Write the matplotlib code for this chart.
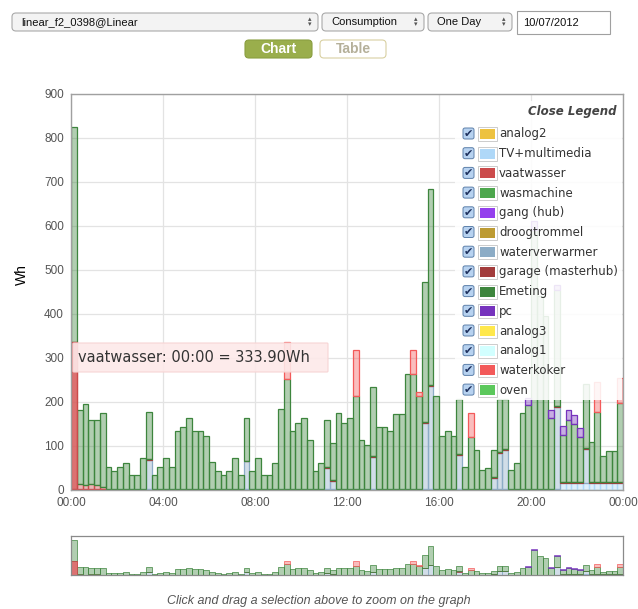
import numpy as np
import matplotlib
matplotlib.use("Agg")
import matplotlib.pyplot as plt
from matplotlib.patches import FancyBboxPatch, Rectangle
from matplotlib.colors import to_rgba

W, H = 638, 609

# 15-minute slots over one day (10/07/2012)
n_slots = 96
hour_ticks = [0, 4, 8, 12, 16, 20, 24]
hour_labels = ["00:00", "04:00", "08:00", "12:00", "16:00", "20:00", "00:00"]

# Emeting (main green) segment per slot, Wh
emeting = [489, 169, 184, 147, 146, 167, 50, 41, 50, 59, 30, 30, 69, 106, 30, 50,
           70, 50, 131, 141, 161, 130, 130, 120, 60, 41, 30, 41, 70, 30, 96, 40,
           70, 30, 30, 59, 180, 249, 130, 150, 160, 110, 40, 59, 106, 84, 171, 150,
           160, 211, 111, 100, 157, 141, 141, 130, 170, 170, 260, 260, 211, 317, 445, 210,
           120, 130, 119, 125, 50, 118, 89, 42, 47, 63, 120, 112, 42, 59, 171, 190,
           589, 437, 392, 161, 264, 107, 141, 133, 103, 146, 90, 160, 60, 70, 71, 180]

# sparse series: slot -> Wh
vaatwasser = {0: 333.9, 1: 10, 2: 8, 3: 10, 4: 9, 5: 4}
waterverwarmer = {13: 66, 30: 62, 44: 47, 45: 17, 52: 73, 61: 150, 62: 233,
                  67: 77, 73: 24, 74: 81, 75: 89, 84: 185, 89: 78}
garage = {13: 2, 30: 2, 44: 2, 45: 2, 52: 2, 61: 2, 62: 2, 67: 2, 73: 2, 74: 2,
          75: 2, 84: 2, 85: 2, 86: 2, 87: 2, 88: 2, 89: 2, 90: 2, 91: 2, 92: 2,
          93: 2, 94: 2, 95: 2}
waterkoker = {37: 85, 49: 105, 59: 55, 60: 9, 69: 53, 91: 67, 95: 57}
pc = {79: 15, 80: 20, 83: 18, 84: 12, 85: 20, 86: 23, 87: 19, 88: 21}
tv_late = {85: 15, 86: 15, 87: 15, 88: 15, 89: 15, 90: 15, 91: 15, 92: 15,
           93: 15, 94: 15, 95: 15}
tv_base = 2
analog2_base = 1

legend_names = ["analog2", "TV+multimedia", "vaatwasser", "wasmachine", "gang (hub)",
                "droogtrommel", "waterverwarmer", "garage (masterhub)", "Emeting", "pc",
                "analog3", "analog1", "waterkoker", "oven"]
legend_colors = ["#edc240", "#afd8f8", "#cb4b4b", "#4da74d", "#9440ed",
                 "#bd9b33", "#8cacc6", "#a23c3c", "#3d853d", "#7633bd",
                 "#ffe84c", "#d2ffff", "#f35a5a", "#5cc85c"]
col = dict(zip(legend_names, legend_colors))


def expand(d, default=0.0):
    arr = np.full(n_slots, float(default))
    for k, v in d.items():
        arr[k] = v
    return arr


tv = expand(tv_late, tv_base)
stack = [
    ("analog2", np.full(n_slots, float(analog2_base))),
    ("TV+multimedia", tv),
    ("vaatwasser", expand(vaatwasser)),
    ("waterverwarmer", expand(waterverwarmer)),
    ("garage (masterhub)", expand(garage)),
    ("Emeting", np.array(emeting, dtype=float)),
    ("pc", expand(pc)),
    ("waterkoker", expand(waterkoker)),
]

x = np.arange(n_slots) * 0.25


def draw_bars(ax, lw):
    bottom = np.zeros(n_slots)
    for name, vals in stack:
        m = vals > 0
        c = col[name]
        ax.bar(x[m], vals[m], width=0.25, bottom=bottom[m], align="edge",
               color=to_rgba(c, 0.4), edgecolor=c, linewidth=lw)
        bottom += vals
    # hovered bar (vaatwasser at 00:00)
    ax.bar([0], [vaatwasser[0]], width=0.25, bottom=[analog2_base + tv_base],
           align="edge", color=to_rgba("#d85a5a", 0.75), edgecolor="#cb4b4b",
           linewidth=lw)


def fx(px):
    return px / W


def fy(py):
    return 1 - py / H


fig = plt.figure(figsize=(W / 100, H / 100), dpi=100)


def rbox(x0, y0, x1, y1, fc, ec, r=3, lw=0.8, z=5):
    p = FancyBboxPatch((fx(x0), fy(y1)), (x1 - x0) / W, (y1 - y0) / H,
                       boxstyle=f"round,pad=0,rounding_size={r / W}",
                       transform=fig.transFigure, facecolor=fc, edgecolor=ec,
                       linewidth=lw, zorder=z)
    fig.patches.append(p)


ui_font = "Liberation Sans"

# top controls
selects = [(12, 318, "linear_f2_0398@Linear"), (322, 424, "Consumption"),
           (428, 512, "One Day")]
for x0, x1, label in selects:
    rbox(x0, 13, x1, 31, "#f3f3f3", "#a9a9a9", r=4)
    fig.text(fx(x0 + 9), fy(22), label, fontsize=8, family=ui_font,
             color="#111111", va="center", zorder=6)
    fig.text(fx(x1 - 8), fy(19.5), "\u25b4", fontsize=5, color="#555555",
             ha="center", va="center", zorder=6)
    fig.text(fx(x1 - 8), fy(24.5), "\u25be", fontsize=5, color="#555555",
             ha="center", va="center", zorder=6)
fig.patches.append(Rectangle((fx(517), fy(34)), 93 / W, 23 / H,
                             transform=fig.transFigure, facecolor="white",
                             edgecolor="#a0a0a0", linewidth=0.8, zorder=5))
fig.text(fx(523), fy(22.5), "10/07/2012", fontsize=8, family=ui_font,
         color="#111111", va="center", zorder=6)

rbox(245, 40, 312, 58, "#9aae4c", "#8a9e40", r=4)
fig.text(fx(278.5), fy(49), "Chart", fontsize=10, family=ui_font, weight="bold",
         color="white", ha="center", va="center", zorder=6)
rbox(320, 40, 386, 58, "white", "#d9d0a2", r=4)
fig.text(fx(353), fy(49), "Table", fontsize=10, family=ui_font, weight="bold",
         color="#b5b09a", ha="center", va="center", zorder=6)

# main chart
ax = fig.add_axes([fx(71), fy(490), 552 / W, 396 / H])
draw_bars(ax, 0.9)
ax.set_xlim(0, 24)
ax.set_ylim(0, 900)
ax.set_xticks(hour_ticks)
ax.set_xticklabels(hour_labels)
ax.set_yticks(np.arange(0, 901, 100))
ax.grid(True, color="#e3e3e3", linewidth=0.9)
ax.set_axisbelow(True)
ax.tick_params(length=0, labelsize=8.5, colors="#545454", pad=5)
for lab in ax.get_xticklabels() + ax.get_yticklabels():
    lab.set_family(ui_font)
for s in ax.spines.values():
    s.set_color("#a0a0a0")
    s.set_linewidth(1.0)
fig.text(fx(22), fy(275), "Wh", rotation=90, fontsize=10, family=ui_font,
         ha="center", va="center")

# tooltip
rbox(73, 343, 328, 372, to_rgba("#fde9e9", 0.9), "#f7d4d4", r=1, lw=0.8, z=7)
fig.text(fx(78), fy(358), "vaatwasser: 00:00 = 333.90Wh", fontsize=10.5,
         color="#333333", va="center", zorder=8)

# legend overlay
fig.patches.append(Rectangle((fx(455), fy(400)), 167 / W, 299 / H,
                             transform=fig.transFigure,
                             facecolor=to_rgba("white", 0.88),
                             edgecolor="none", zorder=5))
fig.text(fx(616), fy(112), "Close Legend", fontsize=8.5, weight="bold",
         style="italic", color="#444444", ha="right", va="center", zorder=6)
row_y0, row_dy = 134, 19.7
for i, (name, c) in enumerate(zip(legend_names, legend_colors)):
    yy = row_y0 + i * row_dy
    rbox(463, yy - 6, 474, yy + 5, "#b7d2f0", "#5d80aa", r=2, lw=0.7, z=6)
    fig.text(fx(468.5), fy(yy), "\u2714", fontsize=8, color="#1d2f5c",
             ha="center", va="center", zorder=7)
    fig.patches.append(Rectangle((fx(478), fy(yy + 7)), 19 / W, 14 / H,
                                 transform=fig.transFigure, facecolor="white",
                                 edgecolor="#cccccc", linewidth=0.7, zorder=6))
    fig.patches.append(Rectangle((fx(480), fy(yy + 5)), 15 / W, 10 / H,
                                 transform=fig.transFigure, facecolor=c,
                                 edgecolor="none", zorder=7))
    fig.text(fx(499), fy(yy), name, fontsize=8.5, color="#333333",
             va="center", zorder=7)

# overview strip
ax2 = fig.add_axes([fx(71), fy(575), 552 / W, 39 / H])
draw_bars(ax2, 0.5)
ax2.set_xlim(0, 24)
ax2.set_ylim(0, 910)
ax2.set_xticks([])
ax2.set_yticks([])
for s in ax2.spines.values():
    s.set_color("#8a8a8a")
    s.set_linewidth(0.9)

fig.text(0.5, fy(601), "Click and drag a selection above to zoom on the graph",
         fontsize=9, family=ui_font, style="italic", color="#555555",
         ha="center", va="center")

fig.savefig("out.png", dpi=100, facecolor="white")
